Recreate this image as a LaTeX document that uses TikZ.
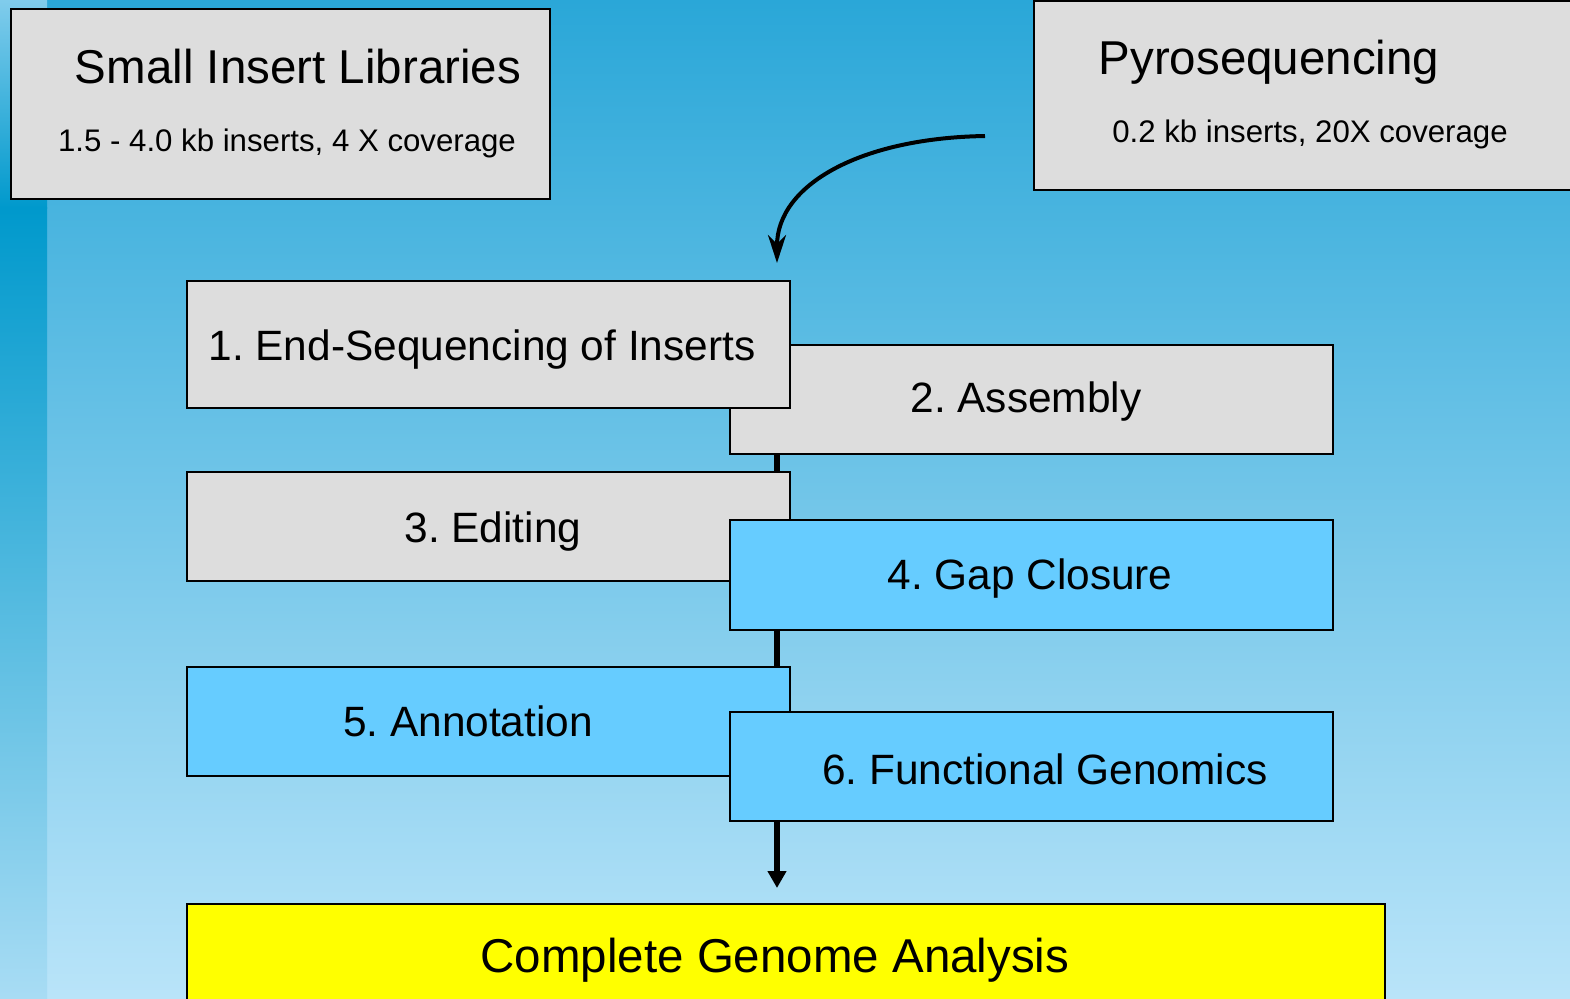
\documentclass[tikz,border=0pt]{standalone}
\usepackage{fontspec}
\setmainfont{Liberation Sans}
\usetikzlibrary{arrows.meta}
\frenchspacing
\definecolor{boxgray}{HTML}{DDDDDD}
\definecolor{boxblue}{HTML}{66CCFF}
\definecolor{boxyellow}{HTML}{FFFF00}
\definecolor{bgtop}{HTML}{2AA7D8}
\definecolor{bgbot}{HTML}{B9E4F9}
\definecolor{striptop}{HTML}{80CCEC}
\definecolor{stripmid}{HTML}{0099CC}
\definecolor{stripbot}{HTML}{A8DCF4}
\tikzset{
  stepbox/.style={draw=black, line width=1.25pt},
  grayfill/.style={stepbox, fill=boxgray},
  bluefill/.style={stepbox, fill=boxblue},
  yellowfill/.style={stepbox, fill=boxyellow},
  bigtxt/.style={font=\fontsize{23.75pt}{26pt}\selectfont, anchor=base, inner sep=0pt},
  steptxt/.style={font=\fontsize{21.2pt}{24pt}\selectfont, anchor=base, inner sep=0pt},
  subtxt/.style={font=\fontsize{15.6pt}{18pt}\selectfont, anchor=base, inner sep=0pt},
  flow/.style={line width=2.8pt, -{Triangle[length=8.5pt,width=9pt]}},
  curvearrow/.style={line width=2pt, -{Stealth[length=14pt,width=9pt,inset=4.5pt]}}
}
\begin{document}
\begin{tikzpicture}[x=0.5pt,y=-0.5pt]
\useasboundingbox (0,0) rectangle (1570,998);
% background
\shade[top color=bgtop, bottom color=bgbot] (0,0) rectangle (1570,998);
\shade[top color=striptop, bottom color=stripmid] (0,0) rectangle (47,208);
\shade[top color=stripmid, bottom color=stripbot] (0,207.5) rectangle (47,998);

% top boxes
\draw[grayfill] (11,9) rectangle (550,199);
\node[bigtxt] (smalltitle) at (298,83) {Small Insert Libraries};
\node[subtxt] (smallsub) at (287,151) {1.5 - 4.0 kb inserts, 4 X coverage};

\draw[grayfill] (1034,1) rectangle (1600,190);
\node[bigtxt] (pyrotitle) at (1269,74) {Pyrosequencing};
\node[subtxt] (pyrosub) at (1310,142) {0.2 kb inserts, 20X coverage};

% flow line behind boxes
\coordinate (flowstart) at (777,400);
\coordinate (flowend) at (777,888);
\draw[flow] (flowstart) -- (flowend);

% curved arrow
\coordinate (curvestart) at (985,136);
\coordinate (curveend) at (777,263);
\draw[curvearrow] (curvestart) .. controls (860,138) and (777,185) .. (curveend);

% steps
\draw[grayfill] (730,345) rectangle (1333,454);
\node[steptxt] (s2) at (1026,412) {2. Assembly};
\draw[grayfill] (187,281) rectangle (790,408);
\node[steptxt] (s1) at (482,360) {1. End-Sequencing of Inserts};
\draw[grayfill] (187,472) rectangle (790,581);
\node[steptxt] (s3) at (493,542) {3. Editing};
\draw[bluefill] (730,520) rectangle (1333,630);
\node[steptxt] (s4) at (1030,589) {4. Gap Closure};
\draw[bluefill] (187,667) rectangle (790,776);
\node[steptxt] (s5) at (468,736) {5. Annotation};
\draw[bluefill] (730,712) rectangle (1333,821);
\node[steptxt] (s6) at (1045,784) {6. Functional Genomics};

% final
\draw[yellowfill] (187,904) rectangle (1385,1020);
\node[bigtxt] (final) at (775,972) {Complete Genome Analysis};
\end{tikzpicture}
\end{document}
